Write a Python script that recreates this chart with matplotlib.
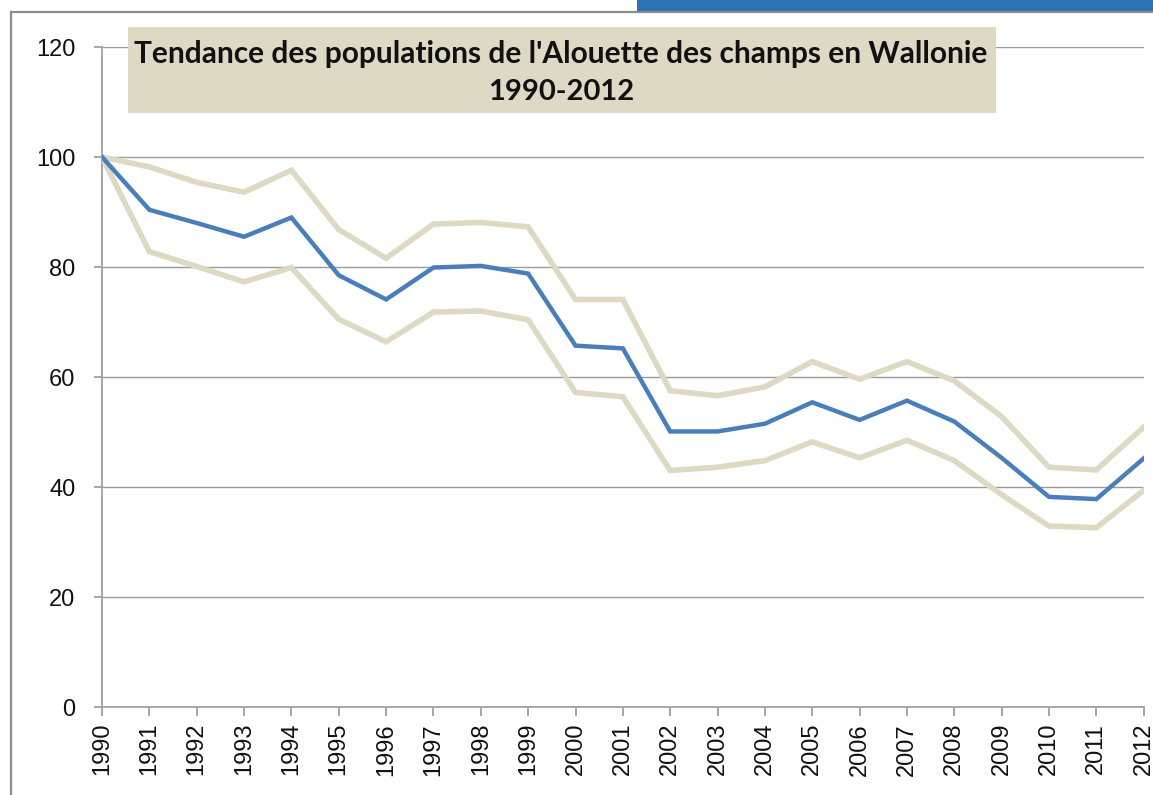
import matplotlib
matplotlib.use("Agg")
import matplotlib.pyplot as plt
from matplotlib.patches import Rectangle
from matplotlib.lines import Line2D

years = [str(y) for y in range(1990, 2013)]
trend = [100, 90.4, 88.0, 85.5, 89.0, 78.5, 74.1, 79.9, 80.2, 78.8, 65.7, 65.2,
         50.1, 50.1, 51.5, 55.4, 52.2, 55.7, 51.9, 45.3, 38.2, 37.8, 45.2]
upper = [100, 98.2, 95.4, 93.6, 97.6, 86.8, 81.6, 87.8, 88.1, 87.3, 74.1, 74.1,
         57.5, 56.6, 58.2, 62.8, 59.6, 62.8, 59.3, 52.8, 43.6, 43.1, 50.9]
lower = [100, 82.8, 80.1, 77.3, 79.9, 70.5, 66.4, 71.8, 72.0, 70.4, 57.2, 56.4,
         43.0, 43.6, 44.8, 48.2, 45.3, 48.5, 44.8, 38.6, 32.9, 32.6, 39.4]
yticks = [0, 20, 40, 60, 80, 100, 120]
title_line1 = "Tendance des populations de l'Alouette des champs en Wallonie"
title_line2 = "1990-2012"

W, H = 1153, 795
fig = plt.figure(figsize=(W / 100, H / 100), dpi=100)
fig.patch.set_facecolor("white")

def fx(px):
    return px / W

def fy(py):
    return 1 - py / H

ax = fig.add_axes([fx(102), fy(707), fx(1143.7) - fx(102), fy(47) - fy(707)])
x = list(range(len(years)))
ax.plot(x, upper, color="#DDD9C3", lw=4.0, solid_joinstyle="miter", zorder=3)
ax.plot(x, lower, color="#DDD9C3", lw=4.0, solid_joinstyle="miter", zorder=3)
ax.plot(x, trend, color="#4A7EBB", lw=3.2, solid_joinstyle="miter", zorder=4)

ax.set_xlim(0, len(years) - 1)
ax.set_ylim(0, 120)
ax.set_yticks(yticks)
ax.set_xticks(x)
ax.set_xticklabels(years, rotation=90, family="Liberation Sans", fontsize=17, color="#111111")
ax.set_yticklabels([str(v) for v in yticks], family="Liberation Sans", fontsize=17, color="#111111")
ax.grid(axis="y", color="#9A9A9A", lw=1.0, zorder=1)
ax.set_axisbelow(True)
for s in ["top", "right"]:
    ax.spines[s].set_visible(False)
for s in ["left", "bottom"]:
    ax.spines[s].set_color("#A0A0A0")
    ax.spines[s].set_linewidth(1.3)
ax.tick_params(axis="y", direction="out", length=6, width=1.3, color="#A0A0A0", pad=13)
ax.tick_params(axis="x", direction="out", length=6.5, width=1.3, color="#A0A0A0", pad=5)

# outer frame
fig.add_artist(Line2D([fx(11), fx(11)], [fy(12), fy(H + 5)], color="#8C8C8C", lw=1.6, transform=fig.transFigure))
fig.add_artist(Line2D([fx(11), fx(W + 5)], [fy(12), fy(12)], color="#8C8C8C", lw=1.6, transform=fig.transFigure))
# blue bar at top right
fig.add_artist(Rectangle((fx(637), fy(11)), fx(W) - fx(637), fy(0) - fy(11),
                         facecolor="#2E74B5", edgecolor="none", transform=fig.transFigure, zorder=5))

# title box
fig.add_artist(Rectangle((fx(128), fy(113)), fx(996) - fx(128), fy(27) - fy(113),
                         facecolor="#DDD9C4", edgecolor="none", transform=fig.transFigure, zorder=5))
fig.text(fx(561), fy(63), title_line1, ha="center", va="baseline", family="Lato",
         fontweight="bold", fontsize=21.5, color="#111111", zorder=6)
fig.text(fx(561), fy(100), title_line2, ha="center", va="baseline", family="Lato",
         fontweight="bold", fontsize=21, color="#111111", zorder=6)

fig.savefig("out.png", dpi=100)
